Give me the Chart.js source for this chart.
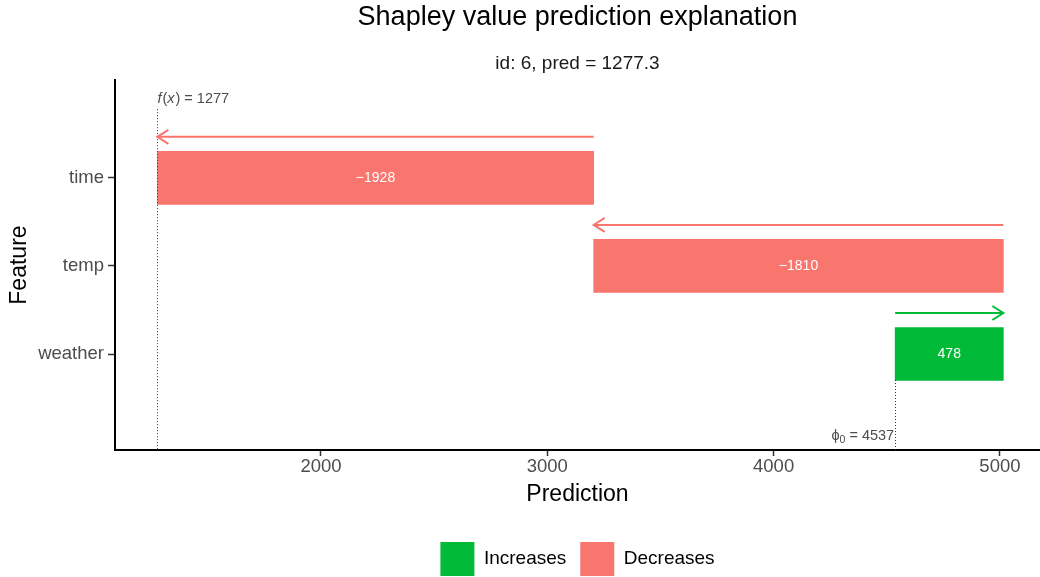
<!DOCTYPE html>
<html>
<head>
<meta charset="utf-8">
<script src="https://cdn.jsdelivr.net/npm/chart.js@4.4.0/dist/chart.umd.min.js"></script>
<style>
  html, body { margin: 0; padding: 0; background: #fff; }
</style>
</head>
<body>
<canvas id="chart" width="1040" height="577"></canvas>
<script>
// ------ data ------
var features = ['time', 'temp', 'weather'];
var shapValues = [-1928, -1810, 478];
var baseline = 4537;        // phi_0
var prediction = 1277.3;    // f(x)
var xTicks = [2000, 3000, 4000, 5000];
var legendLabels = ['Increases', 'Decreases'];

var COLOR_UP = '#00BA38';
var COLOR_DOWN = '#F8766D';
var FONT = '"Liberation Sans", Arial, sans-serif';

// waterfall: start at baseline and walk up from the bottom feature
var barStart = [], barEnd = [];
var acc = baseline;
for (var i = features.length - 1; i >= 0; i--) {
    barStart[i] = acc;
    acc += shapValues[i];
    barEnd[i] = acc;
}

function fmt(v) {
    return (v < 0 ? '\u2212' : '') + Math.abs(v);
}

// ------ arrows, bar labels, reference lines ------
var overlayPlugin = {
    id: 'overlay',
    afterDatasetsDraw: function(chart) {
        var ctx = chart.ctx;
        var xs = chart.scales.x, ys = chart.scales.y;
        var area = chart.chartArea;
        ctx.save();

        // dotted reference lines
        ctx.strokeStyle = '#333';
        ctx.lineWidth = 1;
        ctx.setLineDash([1, 2]);
        var fx = Math.round(xs.getPixelForValue(prediction)) + 0.5;
        ctx.beginPath();
        ctx.moveTo(fx, ys.getPixelForValue(-0.78));
        ctx.lineTo(fx, area.bottom);
        ctx.stroke();
        var px = Math.round(xs.getPixelForValue(baseline)) + 0.5;
        ctx.beginPath();
        ctx.moveTo(px, ys.getPixelForValue(features.length - 1) + 26);
        ctx.lineTo(px, area.bottom);
        ctx.stroke();
        ctx.setLineDash([]);

        // f(x) label
        ctx.fillStyle = '#4D4D4D';
        ctx.textBaseline = 'middle';
        ctx.textAlign = 'left';
        var ly = ys.getPixelForValue(-0.9);
        var cx = xs.getPixelForValue(prediction);
        var parts = [['f', true], ['(', false], ['x', true], [')', false], [' = ' + Math.round(prediction), false]];
        parts.forEach(function(p) {
            ctx.font = (p[1] ? 'italic ' : '') + '14.5px ' + FONT;
            ctx.fillText(p[0], cx, ly);
            cx += ctx.measureText(p[0]).width + (p[1] ? 1 : 0);
        });

        // phi_0 label, right-aligned on the baseline
        var by = ys.getPixelForValue(2.93);
        ctx.font = '14.5px ' + FONT;
        var eqText = ' = ' + baseline;
        var wEq = ctx.measureText(eqText).width;
        var wPhi = ctx.measureText('\u03D5').width;
        ctx.font = '10.5px ' + FONT;
        var wSub = ctx.measureText('0').width;
        var sx = xs.getPixelForValue(baseline) - wEq - wSub - wPhi - 1;
        ctx.font = '14.5px ' + FONT;
        ctx.fillText('\u03D5', sx, by);
        ctx.font = '10.5px ' + FONT;
        ctx.fillText('0', sx + wPhi, by + 4);
        ctx.font = '14.5px ' + FONT;
        ctx.fillText(eqText, sx + wPhi + wSub, by);

        // arrows + value labels
        features.forEach(function(f, i) {
            var color = shapValues[i] >= 0 ? COLOR_UP : COLOR_DOWN;
            var x0 = xs.getPixelForValue(barStart[i]);
            var x1 = xs.getPixelForValue(barEnd[i]);
            var yc = ys.getPixelForValue(i);
            var ya = yc - 41;
            var dir = x1 > x0 ? 1 : -1;
            ctx.strokeStyle = color;
            ctx.lineWidth = 2;
            ctx.lineCap = 'butt';
            ctx.beginPath();
            ctx.moveTo(x0, ya);
            ctx.lineTo(x1, ya);
            ctx.stroke();
            ctx.beginPath();
            ctx.moveTo(x1 - dir * 11, ya - 7);
            ctx.lineTo(x1, ya);
            ctx.lineTo(x1 - dir * 11, ya + 7);
            ctx.stroke();

            ctx.fillStyle = '#fff';
            ctx.font = '14px ' + FONT;
            ctx.textAlign = 'center';
            ctx.fillText(fmt(shapValues[i]), (x0 + x1) / 2, yc);
        });
        ctx.restore();
    }
};

new Chart(document.getElementById('chart'), {
    type: 'bar',
    data: {
        datasets: [{
            data: features.map(function(f, i) { return { x: [barStart[i], barEnd[i]], y: i }; }),
            backgroundColor: shapValues.map(function(v) { return v >= 0 ? COLOR_UP : COLOR_DOWN; }),
            borderWidth: 0,
            borderSkipped: false,
            barThickness: 53
        }]
    },
    plugins: [overlayPlugin],
    options: {
        indexAxis: 'y',
        responsive: false,
        animation: false,
        layout: { padding: { top: 0, left: 0, right: 0, bottom: -9 } },
        scales: {
            x: {
                type: 'linear',
                position: 'bottom',
                min: 1090,
                max: 5177,
                afterBuildTicks: function(s) { s.ticks = xTicks.map(function(v) { return { value: v }; }); },
                afterFit: function(s) { s.height = 78; },
                grid: { display: true, drawOnChartArea: false, drawTicks: true, tickLength: 6, tickColor: '#333', tickWidth: 1.5 },
                border: { display: true, color: '#000', width: 2 },
                ticks: {
                    color: '#4D4D4D',
                    font: { family: FONT, size: 18.5 },
                    padding: 0,
                    maxRotation: 0,
                    callback: function(v) { return String(v); }
                },
                title: { display: true, text: 'Prediction', color: '#000', font: { family: FONT, size: 23 }, padding: { top: 0, bottom: 20 } }
            },
            y: {
                type: 'linear',
                reverse: true,
                offset: false,
                min: -1.11,
                max: 3.09,
                afterBuildTicks: function(s) { s.ticks = features.map(function(f, i) { return { value: i }; }); },
                afterFit: function(s) { s.width = 115; },
                grid: { display: true, offset: false, drawOnChartArea: false, drawTicks: true, tickLength: 7, tickColor: '#333', tickWidth: 1.5 },
                border: { display: true, color: '#000', width: 2 },
                ticks: {
                    color: '#4D4D4D',
                    font: { family: FONT, size: 18.5 },
                    padding: 4,
                    callback: function(v) { return features[v]; }
                },
                title: { display: true, text: 'Feature', color: '#000', font: { family: FONT, size: 23 }, padding: { top: 6, bottom: 0 } }
            }
        },
        plugins: {
            title: {
                display: true,
                fullSize: false,
                text: 'Shapley value prediction explanation',
                color: '#000',
                font: { family: FONT, size: 27, weight: 'normal' },
                padding: { top: 1.8, bottom: 0 }
            },
            subtitle: {
                display: true,
                fullSize: false,
                text: 'id: 6, pred = ' + prediction,
                color: '#1a1a1a',
                font: { family: FONT, size: 19 },
                padding: { top: 18.5, bottom: 4.6 }
            },
            legend: {
                position: 'bottom',
                fullSize: false,
                onClick: null,
                labels: {
                    boxWidth: 34,
                    boxHeight: 34,
                    padding: 14,
                    color: '#1a1a1a',
                    font: { family: FONT, size: 19 },
                    generateLabels: function() {
                        return legendLabels.map(function(t, k) {
                            var c = k === 0 ? COLOR_UP : COLOR_DOWN;
                            return { text: t, fillStyle: c, strokeStyle: c, lineWidth: 0, hidden: false, datasetIndex: 0 };
                        });
                    }
                }
            },
            tooltip: { enabled: false }
        }
    }
});
</script>
</body>
</html>
